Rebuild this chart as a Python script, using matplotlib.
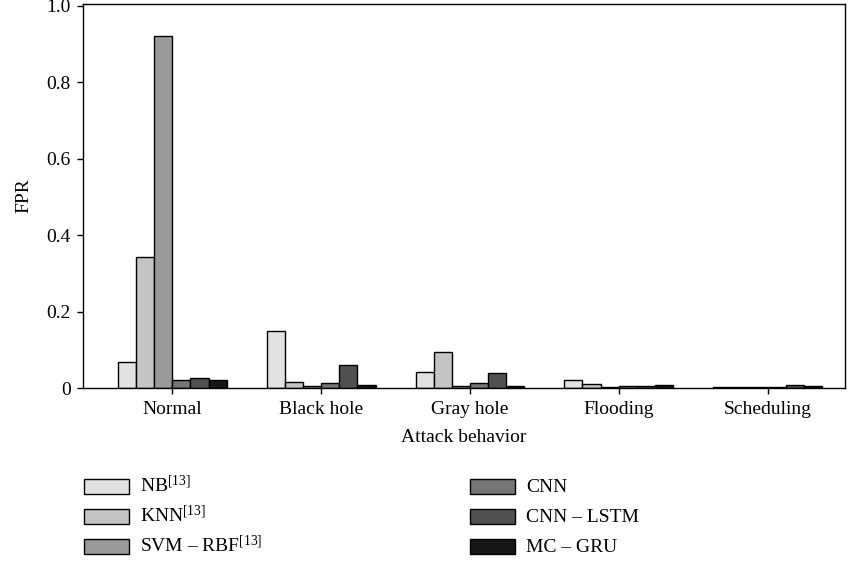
import matplotlib
matplotlib.use("Agg")
import matplotlib.pyplot as plt
import numpy as np
from matplotlib.patches import Rectangle

categories = ["Normal", "Black hole", "Gray hole", "Flooding", "Scheduling"]
series_names = ["NB$\\mathregular{^{[13]}}$", "KNN$\\mathregular{^{[13]}}$",
                "SVM – RBF$\\mathregular{^{[13]}}$", "CNN", "CNN – LSTM", "MC – GRU"]
nb = [0.069, 0.150, 0.043, 0.020, 0.002]
knn = [0.344, 0.016, 0.094, 0.011, 0.003]
svm_rbf = [0.920, 0.004, 0.004, 0.003, 0.003]
cnn = [0.021, 0.013, 0.014, 0.004, 0.003]
cnn_lstm = [0.025, 0.061, 0.040, 0.004, 0.007]
mc_gru = [0.022, 0.007, 0.005, 0.007, 0.004]
series = [nb, knn, svm_rbf, cnn, cnn_lstm, mc_gru]
colors = ["#e2e2e2", "#c4c4c4", "#9a9a9a", "#767676", "#505050", "#161616"]

plt.rcParams['font.family'] = ['Liberation Serif', 'DejaVu Serif']
plt.rcParams['mathtext.fontset'] = 'stix'

W, H = 848, 562
fig = plt.figure(figsize=(W / 100, H / 100), dpi=100)
ax = fig.add_axes([0.0979, 0.3096, 0.8986, 0.6833])

x = np.arange(len(categories))
w = 0.122
for i, (vals, c) in enumerate(zip(series, colors)):
    ax.bar(x + (i - 2.5) * w, vals, width=w, color=c, edgecolor="black", linewidth=1.0)

ax.set_xlim(-0.6, 4.52)
ax.set_ylim(0, 1.005)
ax.set_yticks([0, 0.2, 0.4, 0.6, 0.8, 1.0])
ax.set_yticklabels(["0", "0.2", "0.4", "0.6", "0.8", "1.0"])
ax.set_xticks(x)
ax.set_xticklabels(categories)
ax.tick_params(direction="out", length=4, width=1, labelsize=14, colors="black")
ax.tick_params(axis="x", pad=5)
ax.tick_params(axis="y", pad=5)
ax.set_xlabel("Attack behavior", fontsize=14, labelpad=8)
ax.set_ylabel("FPR", fontsize=14, labelpad=10)
for s in ax.spines.values():
    s.set_linewidth(1.0)

# legend (two columns, drawn in figure pixel layout)
col_x = [84, 470]
row_y = [486, 516, 546]
pw, ph = 45, 15
for k, (name, c) in enumerate(zip(series_names, colors)):
    cx = col_x[k // 3]
    cy = row_y[k % 3]
    fig.patches.append(Rectangle((cx / W, 1 - (cy + ph / 2) / H), pw / W, ph / H,
                                 facecolor=c, edgecolor="black", linewidth=1.0,
                                 transform=fig.transFigure, figure=fig))
    fig.text((cx + pw + 11) / W, 1 - (cy + 6.5) / H, name, fontsize=14,
             ha="left", va="baseline")

fig.savefig("out.png", dpi=100)
